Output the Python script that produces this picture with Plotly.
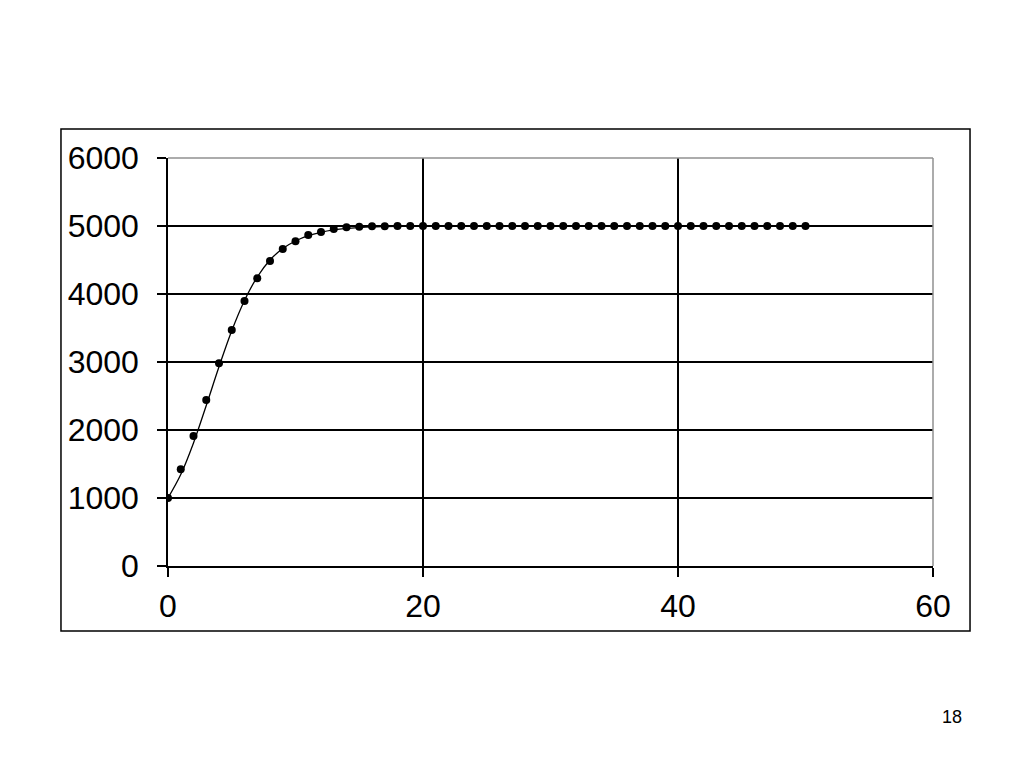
import plotly.graph_objects as go

# Data
t_points = list(range(0, 51))
pop_points = [1000, 1422, 1912, 2441, 2980, 3471, 3897, 4230, 4485, 4662,
              4775, 4868, 4912, 4956, 4980, 4990, 4996, 4998, 5000, 5000] + [5000] * 31

t_curve = list(range(0, 51))
pop_curve = [1000, 1345, 1810, 2360, 2930, 3460, 3905, 4250, 4500, 4670,
             4780, 4858, 4908, 4942, 4964, 4977, 4986, 4991, 4995, 4997, 4998] + [5000] * 30

x_ticks = [0, 20, 40, 60]
y_ticks = [0, 1000, 2000, 3000, 4000, 5000, 6000]
page_number = "18"

FONT = "Liberation Sans, Arial, sans-serif"

fig = go.Figure()
fig.add_trace(go.Scatter(x=t_curve, y=pop_curve, mode="lines",
                         line=dict(color="black", width=1.3, shape="spline"),
                         showlegend=False, hoverinfo="skip"))
fig.add_trace(go.Scatter(x=t_points, y=pop_points, mode="markers",
                         marker=dict(color="black", size=8),
                         showlegend=False))

fig.update_layout(
    width=1024, height=768,
    margin=dict(l=160, r=99, t=150, b=210),
    paper_bgcolor="white", plot_bgcolor="white",
    font=dict(family=FONT, color="black"),
    xaxis=dict(range=[0, 60], tickvals=x_ticks, ticktext=[str(v) for v in x_ticks],
               showgrid=True, gridcolor="black", gridwidth=1.5,
               showline=True, linecolor="black", linewidth=1.5,
               ticks="outside", ticklen=9, tickcolor="black", tickwidth=1.5,
               ticklabelstandoff=2,
               tickfont=dict(size=32, family=FONT), zeroline=False),
    yaxis=dict(range=[0, 6000], tickvals=y_ticks, ticktext=[str(v) for v in y_ticks],
               showgrid=True, gridcolor="black", gridwidth=1.5,
               showline=True, linecolor="black", linewidth=1.5,
               ticks="outside", ticklen=9, tickcolor="black", tickwidth=1.5,
               ticklabelstandoff=12,
               tickfont=dict(size=32, family=FONT), zeroline=False),
    shapes=[
        # gray plot-area border on top/right
        dict(type="line", xref="paper", yref="paper", x0=0, x1=1, y0=1, y1=1,
             line=dict(color="#909090", width=1.5), layer="above"),
        dict(type="line", xref="paper", yref="paper", x0=1, x1=1, y0=0, y1=1,
             line=dict(color="#909090", width=1.5), layer="above"),
        # outer chart box
        dict(type="rect", xref="paper", yref="paper",
             x0=-0.1399, x1=1.0484, y0=-0.1593, y1=1.0711,
             line=dict(color="black", width=1.5), layer="below"),
    ],
    annotations=[
        dict(text=page_number, xref="paper", yref="paper",
             x=(952 - 168) / 765, y=(566 - 717) / 408,
             showarrow=False, font=dict(size=18, family=FONT, color="black"),
             xanchor="center", yanchor="middle"),
    ],
)

fig.write_html("out.html")
